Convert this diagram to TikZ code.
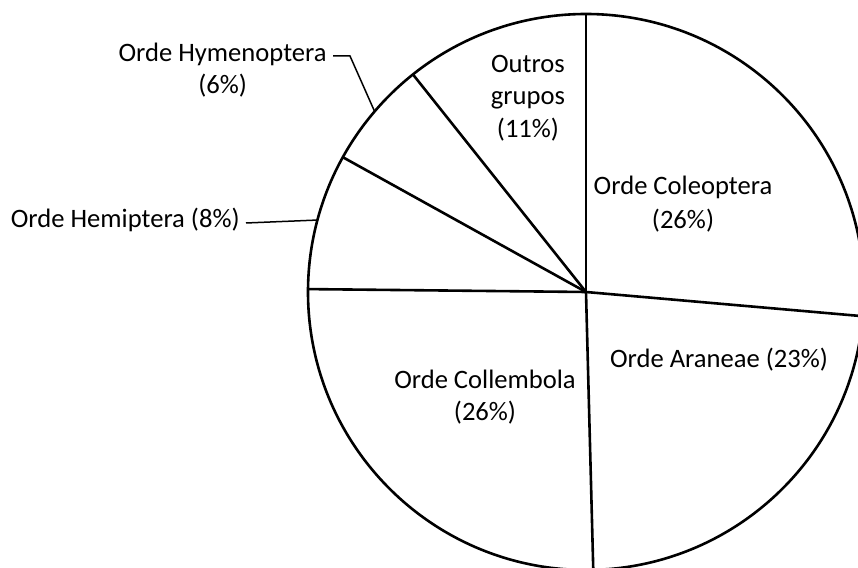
\documentclass[tikz,border=0pt]{standalone}
\usepackage{fontspec}
\setmainfont{Carlito}
\usepackage{tikz}
\tikzset{
    slice/.style={line width=1.3pt, line join=round},
    lbl/.style={font=\fontsize{13.3}{16.2}\selectfont, align=center, inner sep=0pt},
    leader/.style={line width=0.75pt} }
\usetikzlibrary{calc, positioning}

\begin{document}
\begin{tikzpicture}[x=0.5pt, y=0.5pt]
			\useasboundingbox (0,0) rectangle (858,568);
			\clip (0,0) rectangle (858,568);
			\coordinate (c) at (586,276);
			\coordinate (hymarc) at ($(c)+(139.5:278)$);
			\coordinate (hemarc) at ($(c)+(165:278)$);
			% ----
			\draw[slice] (c) circle[radius=278];
			\foreach \a in {90,-5,-88.5,179.4,151,128.5}
				\draw[slice] (c) -- ++(\a:278);
			% ----
			\node[lbl] (out) at (528,470) {Outros\\grupos\\(11\%)};
			\node[lbl] (col) at (683,364) {Orde Coleoptera\\[1pt](26\%)};
			\node[lbl] (ara) at (719,208) {Orde Araneae (23\%)};
			\node[lbl] (coll) at (485,171) {Orde Collembola\\(26\%)};
			\node[lbl, anchor=east] (hem) at (240,348) {Orde Hemiptera (8\%)};
			\node[lbl, anchor=east] (hym) at (327,514) {Orde Hymenoptera};
			\node[lbl, below=4pt of hym] (hymp) {(6\%)};
			% ----
			\draw[leader] ([xshift=3pt, yshift=-1pt]hym.east) -- ++(17,0) -- (hymarc);
			\draw[leader] ([xshift=3pt, yshift=-1.5pt]hem.east) -- (hemarc);
		\end{tikzpicture}
\end{document}
